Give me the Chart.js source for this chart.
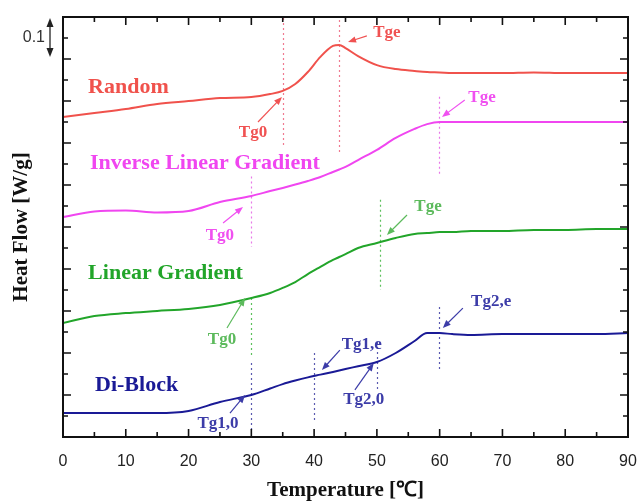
<!DOCTYPE html>
<html>
<head>
<meta charset="utf-8">
<script src="https://cdn.jsdelivr.net/npm/chart.js@4"></script>
<style>
  html, body { margin: 0; padding: 0; background: #fff; overflow: hidden; }
  canvas { display: block; }
</style>
</head>
<body>
<canvas id="dscChart" width="639" height="503"></canvas>
<script>
// temperature in deg C, heat flow in arbitrary offset units (curves are stacked)
const temps = [0, 5, 10, 15, 20, 25, 30, 33, 35, 37, 39, 41, 43, 44, 45, 47, 50, 53, 56, 58, 60, 62, 65, 70, 75, 80, 85, 90];
const randomFlow = [15.24, 15.43, 15.62, 15.86, 16.0, 16.14, 16.19, 16.33, 16.48, 16.81, 17.38, 18.10, 18.62, 18.67, 18.52, 18.14, 17.71, 17.52, 17.43, 17.38, 17.36, 17.33, 17.33, 17.33, 17.36, 17.33, 17.33, 17.33];
const inverseFlow = [10.48, 10.74, 10.79, 10.69, 10.76, 11.19, 11.48, 11.71, 11.86, 12.02, 12.19, 12.38, 12.62, 12.74, 12.86, 13.19, 13.67, 14.24, 14.67, 14.90, 15.0, 15.0, 15.0, 15.0, 15.0, 15.0, 15.0, 15.0];
const linearFlow = [5.43, 5.76, 5.90, 6.0, 6.10, 6.29, 6.62, 6.86, 7.10, 7.38, 7.76, 8.10, 8.43, 8.57, 8.71, 9.0, 9.24, 9.48, 9.67, 9.71, 9.76, 9.76, 9.81, 9.81, 9.86, 9.86, 9.90, 9.90];
const diblockFlow = [1.14, 1.14, 1.14, 1.14, 1.24, 1.67, 2.0, 2.31, 2.52, 2.69, 2.84, 2.97, 3.10, 3.17, 3.24, 3.37, 3.57, 4.0, 4.57, 4.95, 4.95, 4.90, 4.86, 4.90, 4.90, 4.90, 4.90, 4.95];

const seriesNames = ['Random', 'Inverse Linear Gradient', 'Linear Gradient', 'Di-Block'];
const seriesColors = ['#f0524c', '#f046f0', '#22a52a', '#1a1a96'];
const labelPos = [[4.0, 16.67], [4.3, 13.05], [4.0, 7.81], [5.1, 2.48]];

// dotted guide lines: temperature, from, to, series index
const guides = [
  [35, 19.95, 13.86, 0], [44, 19.86, 13.43, 0],
  [59.9, 16.2, 12.4, 1], [30, 12.4, 9.05, 1],
  [50.5, 11.3, 7.0, 2], [30, 6.62, 3.9, 2],
  [30, 3.52, 0.33, 3], [40, 4.0, 0.81, 3], [50, 4.52, 2.14, 3], [59.9, 6.19, 3.19, 3]
];

// transition markers: text, text pos, arrow tail, arrow tip, series index
const notes = [
  ['Tg0', 30.26, 14.48, 31.06, 15.0, 34.88, 16.19, 0],
  ['Tge', 51.6, 19.24, 48.4, 19.1, 45.4, 18.81, 0],
  ['Tge', 66.74, 16.14, 64.0, 16.05, 60.37, 15.24, 1],
  ['Tg0', 25.0, 9.57, 25.5, 10.19, 28.67, 10.95, 1],
  ['Tge', 58.14, 10.95, 54.8, 10.57, 51.6, 9.62, 2],
  ['Tg0', 25.33, 4.62, 26.12, 5.19, 29.0, 6.62, 2],
  ['Tg1,0', 24.7, 0.62, 26.6, 1.14, 29.0, 2.0, 3],
  ['Tg1,e', 47.6, 4.38, 44.1, 4.14, 41.25, 3.19, 3],
  ['Tg2,0', 47.9, 1.76, 46.5, 2.24, 49.5, 3.52, 3],
  ['Tg2,e', 68.2, 6.43, 63.7, 6.14, 60.5, 5.19, 3]
];

const guideColors = ['#f07a90', '#e878e8', '#5cc05c', '#5a5ab0'];
const arrowColors = ['#f05252', '#f050f0', '#5cba5c', '#3c3ca8'];

const scaleBar = { top: 19.95, bottom: 18.1, text: '0.1' };

const flows = [randomFlow, inverseFlow, linearFlow, diblockFlow];

const decor = {
  id: 'decor',
  beforeDatasetsDraw(chart) {
    const { ctx, scales: { x, y } } = chart;
    ctx.save();
    ctx.lineWidth = 1.2;
    ctx.setLineDash([2, 3]);
    guides.forEach(g => {
      const px = Math.round(x.getPixelForValue(g[0])) + 0.5;
      ctx.strokeStyle = guideColors[g[3]];
      ctx.beginPath();
      ctx.moveTo(px, y.getPixelForValue(g[1]));
      ctx.lineTo(px, y.getPixelForValue(g[2]));
      ctx.stroke();
    });
    ctx.restore();
  },
  afterDraw(chart) {
    const { ctx, chartArea: a, scales: { x, y } } = chart;
    ctx.save();

    // frame + inward ticks
    ctx.strokeStyle = '#111';
    ctx.lineWidth = 2;
    ctx.strokeRect(a.left, a.top, a.right - a.left, a.bottom - a.top);
    ctx.lineWidth = 1.6;
    ctx.beginPath();
    for (let t = 0; t <= 90; t += 5) {
      const px = x.getPixelForValue(t);
      const len = t % 10 === 0 ? 8 : 5;
      ctx.moveTo(px, a.bottom); ctx.lineTo(px, a.bottom - len);
      ctx.moveTo(px, a.top); ctx.lineTo(px, a.top + len);
    }
    for (let v = 0; v <= 20; v++) {
      const py = y.getPixelForValue(v);
      const len = v % 2 === 0 ? 8 : 5;
      ctx.moveTo(a.left, py); ctx.lineTo(a.left + len, py);
      ctx.moveTo(a.right, py); ctx.lineTo(a.right - len, py);
    }
    ctx.stroke();

    // series names
    ctx.textBaseline = 'middle';
    ctx.textAlign = 'left';
    ctx.font = 'bold 22px "Liberation Serif", "Times New Roman", serif';
    seriesNames.forEach((n, i) => {
      ctx.fillStyle = seriesColors[i];
      ctx.fillText(n, x.getPixelForValue(labelPos[i][0]), y.getPixelForValue(labelPos[i][1]));
    });

    // transition markers
    ctx.textAlign = 'center';
    ctx.font = 'bold 17px "Liberation Serif", "Times New Roman", serif';
    notes.forEach(n => {
      const c = arrowColors[n[7]];
      ctx.fillStyle = c;
      ctx.fillText(n[0], x.getPixelForValue(n[1]), y.getPixelForValue(n[2]));
      const x0 = x.getPixelForValue(n[3]), y0 = y.getPixelForValue(n[4]);
      const x1 = x.getPixelForValue(n[5]), y1 = y.getPixelForValue(n[6]);
      drawArrow(ctx, x0, y0, x1, y1, c, 1.2);
    });

    // 0.1 W/g scale bar
    const bx = a.left - 13;
    const by0 = y.getPixelForValue(scaleBar.top), by1 = y.getPixelForValue(scaleBar.bottom);
    ctx.strokeStyle = '#222';
    ctx.lineWidth = 1.3;
    ctx.beginPath(); ctx.moveTo(bx, by0 + 4); ctx.lineTo(bx, by1 - 4); ctx.stroke();
    ctx.fillStyle = '#222';
    [[by0, 1], [by1, -1]].forEach(([py, d]) => {
      ctx.beginPath();
      ctx.moveTo(bx, py); ctx.lineTo(bx - 3.5, py + d * 9); ctx.lineTo(bx + 3.5, py + d * 9);
      ctx.closePath(); ctx.fill();
    });
    ctx.font = '16px "Liberation Sans", Arial, sans-serif';
    ctx.textAlign = 'right';
    ctx.fillStyle = '#333';
    ctx.fillText(scaleBar.text, bx - 5, (by0 + by1) / 2);

    ctx.restore();
  }
};

function drawArrow(ctx, x0, y0, x1, y1, color, w) {
  const ang = Math.atan2(y1 - y0, x1 - x0);
  const head = 8, half = 3.2;
  ctx.strokeStyle = color;
  ctx.fillStyle = color;
  ctx.lineWidth = w;
  ctx.beginPath();
  ctx.moveTo(x0, y0);
  ctx.lineTo(x1 - Math.cos(ang) * head * 0.8, y1 - Math.sin(ang) * head * 0.8);
  ctx.stroke();
  ctx.beginPath();
  ctx.moveTo(x1, y1);
  ctx.lineTo(x1 - Math.cos(ang) * head - Math.sin(ang) * half, y1 - Math.sin(ang) * head + Math.cos(ang) * half);
  ctx.lineTo(x1 - Math.cos(ang) * head + Math.sin(ang) * half, y1 - Math.sin(ang) * head - Math.cos(ang) * half);
  ctx.closePath();
  ctx.fill();
}

const datasets = flows.map((f, i) => ({
  label: seriesNames[i],
  data: temps.map((t, k) => ({ x: t, y: f[k] })),
  borderColor: seriesColors[i],
  borderWidth: 2,
  pointRadius: 0,
  fill: false,
  cubicInterpolationMode: 'monotone'
}));

new Chart(document.getElementById('dscChart').getContext('2d'), {
  type: 'line',
  data: { datasets: datasets },
  options: {
    responsive: false,
    animation: false,
    layout: { padding: { top: 17, right: 11, left: 0, bottom: 0 } },
    plugins: { legend: { display: false }, tooltip: { enabled: false } },
    scales: {
      x: {
        type: 'linear',
        min: 0,
        max: 90,
        ticks: {
          stepSize: 10,
          padding: 15,
          color: '#222',
          font: { family: '"Liberation Sans", Arial, sans-serif', size: 16 }
        },
        grid: { display: false, drawTicks: false },
        border: { display: false },
        title: {
          display: true,
          text: 'Temperature [℃]',
          color: '#111',
          font: { family: '"Liberation Serif", "Times New Roman", serif', size: 21, weight: 'bold' },
          padding: { top: 0, bottom: 0 }
        },
        afterFit(s) { s.height = 66; s.paddingLeft = 0; s.paddingRight = 0; }
      },
      y: {
        min: 0,
        max: 20,
        ticks: { display: false, stepSize: 1 },
        grid: { display: false, drawTicks: false },
        border: { display: false },
        title: {
          display: true,
          text: 'Heat Flow [W/g]',
          color: '#111',
          font: { family: '"Liberation Serif", "Times New Roman", serif', size: 21, weight: 'bold' },
          padding: { top: 9, bottom: 0 }
        },
        afterFit(s) { s.width = 63; s.paddingTop = 0; s.paddingBottom = 0; }
      }
    }
  },
  plugins: [decor]
});
</script>
</body>
</html>
